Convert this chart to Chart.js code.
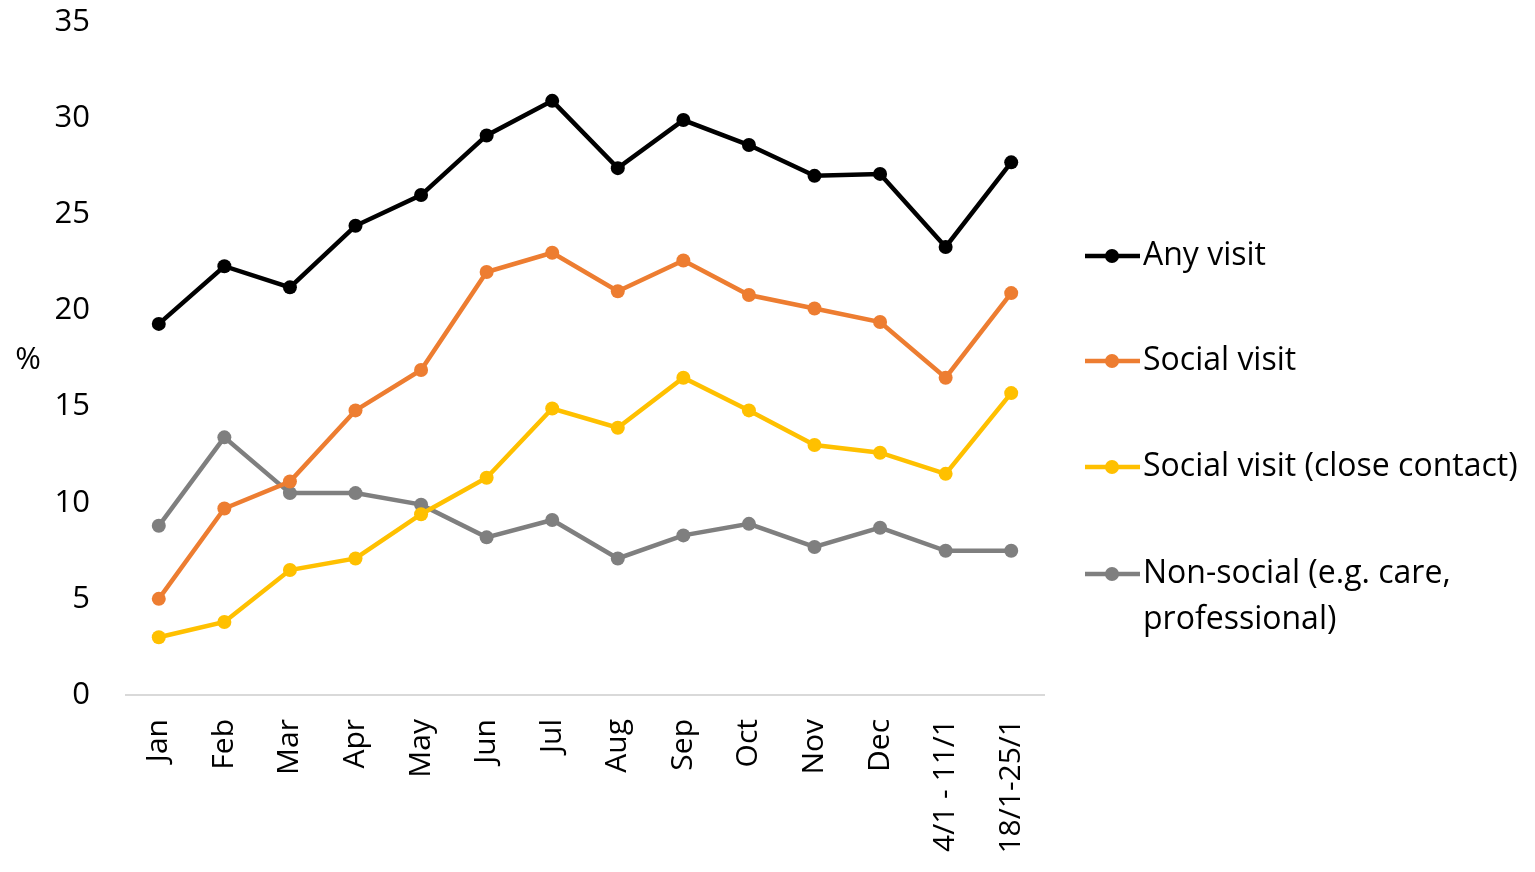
<!DOCTYPE html>
<html>
<head>
<meta charset="utf-8">
<script src="https://cdn.jsdelivr.net/npm/chart.js@4/dist/chart.umd.min.js"></script>
<style>
    html, body { margin: 0; padding: 0; background: #fff; }
    #wrap { width: 1535px; height: 872px; position: relative; }
</style>
</head>
<body>
<div id="wrap"><canvas id="visitChart"></canvas></div>
<script>
// Chart data
const categories = ['Jan', 'Feb', 'Mar', 'Apr', 'May', 'Jun', 'Jul', 'Aug', 'Sep', 'Oct', 'Nov', 'Dec', '4/1 - 11/1', '18/1-25/1'];
const anyVisit = [19.3, 22.3, 21.2, 24.4, 26.0, 29.1, 30.9, 27.4, 29.9, 28.6, 27.0, 27.1, 23.3, 27.7];
const socialVisit = [5.0, 9.7, 11.1, 14.8, 16.9, 22.0, 23.0, 21.0, 22.6, 20.8, 20.1, 19.4, 16.5, 20.9];
const socialClose = [3.0, 3.8, 6.5, 7.1, 9.4, 11.3, 14.9, 13.9, 16.5, 14.8, 13.0, 12.6, 11.5, 15.7];
const nonSocial = [8.8, 13.4, 10.5, 10.5, 9.9, 8.2, 9.1, 7.1, 8.3, 8.9, 7.7, 8.7, 7.5, 7.5];
const seriesNames = ['Any visit', 'Social visit', 'Social visit (close contact)', 'Non-social (e.g. care,\nprofessional)'];
const yTicks = [0, 5, 10, 15, 20, 25, 30, 35];

const FONT = "'Open Sans', 'Liberation Sans', sans-serif";

function makeSet(label, data, color) {
    return {
        label,
        data,
        borderColor: color,
        backgroundColor: color,
        borderWidth: 4.5,
        pointRadius: 7,
        pointBorderWidth: 0,
        pointBackgroundColor: color,
        tension: 0,
        fill: false
    };
}

// Legend on the right, drawn by hand so the last label can wrap
const sideLegend = {
    id: 'sideLegend',
    afterDraw(chart) {
        const ctx = chart.ctx;
        const rowsY = [256, 361, 467, 574];
        ctx.save();
        ctx.font = '32px ' + FONT;
        ctx.textBaseline = 'middle';
        ctx.textAlign = 'left';
        chart.data.datasets.forEach((ds, i) => {
            const y = rowsY[i];
            ctx.strokeStyle = ds.borderColor;
            ctx.lineWidth = 4.5;
            ctx.beginPath();
            ctx.moveTo(1085, y);
            ctx.lineTo(1140, y);
            ctx.stroke();
            ctx.fillStyle = ds.borderColor;
            ctx.beginPath();
            ctx.arc(1112, y, 7, 0, Math.PI * 2);
            ctx.fill();
            ctx.fillStyle = '#000';
            ds.label.split('\n').forEach((line, j) => {
                ctx.fillText(line, 1143, y + j * 46);
            });
        });
        // y axis title
        ctx.font = '31px ' + FONT;
        ctx.textAlign = 'center';
        ctx.fillText('%', 28, 360);
        ctx.restore();
    }
};

const ctx = document.getElementById('visitChart').getContext('2d');
new Chart(ctx, {
    type: 'line',
    data: {
        labels: categories,
        datasets: [
            makeSet(seriesNames[0], anyVisit, '#000000'),
            makeSet(seriesNames[1], socialVisit, '#ED7D31'),
            makeSet(seriesNames[2], socialClose, '#FFC000'),
            makeSet(seriesNames[3], nonSocial, '#7F7F7F')
        ]
    },
    options: {
        responsive: true,
        maintainAspectRatio: false,
        animation: false,
        layout: { padding: { left: 0, right: 491, top: 22, bottom: 0 } },
        plugins: {
            legend: { display: false },
            tooltip: { enabled: false }
        },
        scales: {
            x: {
                offset: true,
                grid: { display: false, drawTicks: false },
                border: { display: true, color: '#D9D9D9', width: 2 },
                ticks: {
                    color: '#000',
                    font: { family: FONT, size: 30 },
                    minRotation: 90,
                    maxRotation: 90,
                    padding: 24,
                    autoSkip: false
                },
                afterFit(scale) { scale.height = 177; }
            },
            y: {
                min: 0,
                max: 35,
                afterBuildTicks(scale) {
                    scale.ticks = yTicks.map(v => ({ value: v }));
                },
                grid: { display: false, drawTicks: false },
                border: { display: false },
                ticks: {
                    color: '#000',
                    font: { family: FONT, size: 31 },
                    padding: 36
                },
                afterFit(scale) {
                    scale.width = 126;
                    scale.paddingTop = 10;
                    scale.paddingBottom = 10;
                }
            }
        }
    },
    plugins: [sideLegend]
});
</script>
</body>
</html>
